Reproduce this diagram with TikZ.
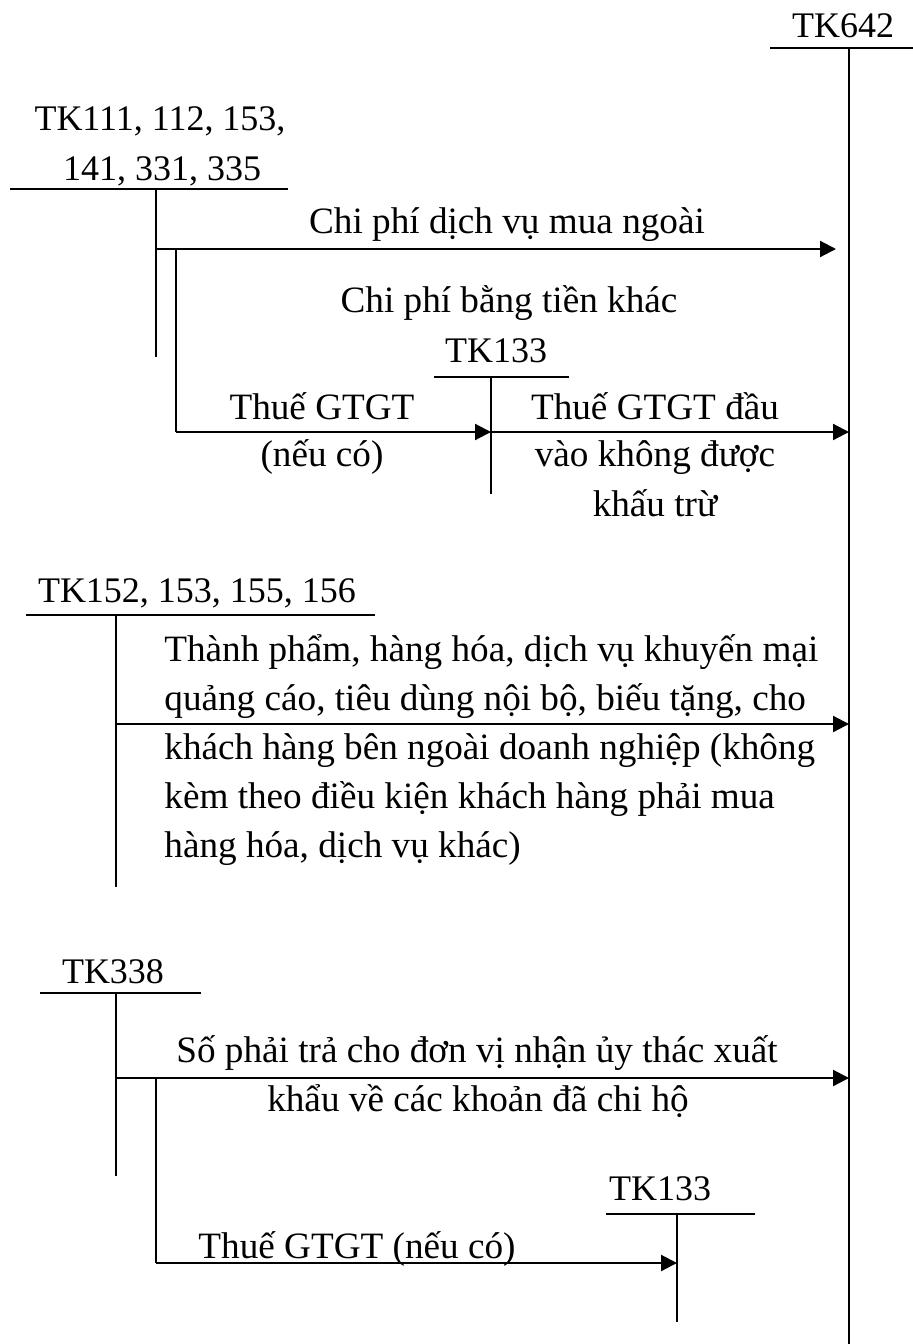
\documentclass[tikz,border=0pt]{standalone}
\usepackage{fontspec}
\setmainfont{Liberation Serif}
\usetikzlibrary{arrows.meta}
\tikzset{
    txt/.style={font=\fontsize{18}{24.5}\selectfont, inner sep=0pt, anchor=base},
    lib/.style={txt, font=\fontsize{18.6}{24.5}\selectfont},
    compte/.style={line width=1.15pt},
    branche/.style={line width=0.75pt},
    fleche/.style={line width=1.1pt, -{Triangle[length=8pt,width=8pt]}},
  }

\begin{document}
\begin{tikzpicture}[x=0.5pt,y=-0.5pt]
      \useasboundingbox (0,0) rectangle (913,1344);
      %TK642
      \node[txt] (t642) at (843,37) {TK642};
      \coordinate (g642) at (770,48);
      \coordinate (d642) at (913,48);
      \coordinate (h642) at (849,48);
      \coordinate (b642) at (849,1344);
      \draw[compte] (g642) -- (d642);
      \draw[branche] (h642) -- (b642);
      %TK111, 112, ...
      \node[txt] (t111) at (160,130) {TK111, 112, 153,};
      \node[txt] (t141) at (162,180) {141, 331, 335};
      \coordinate (g111) at (10,189);
      \coordinate (d111) at (288,189);
      \coordinate (h111) at (156,189);
      \coordinate (b111) at (156,357);
      \coordinate (h111b) at (176,249);
      \coordinate (b111b) at (176,432);
      \draw[compte] (g111) -- (d111);
      \draw[branche] (h111) -- (b111);
      \draw[branche] (h111b) -- (b111b);
      \draw[fleche, shorten >=6.5pt] (h111 |- h111b) -- (h111b -| h642);
      \node[lib] (l1) at (507,233) {Chi phí dịch vụ mua ngoài};
      \node[lib] (l2) at (509,312) {Chi phí bằng tiền khác};
      %TK133
      \node[txt] (t133) at (496,362) {TK133};
      \coordinate (g133) at (434,377);
      \coordinate (d133) at (569,377);
      \coordinate (h133) at (491,377);
      \coordinate (b133) at (491,494);
      \draw[compte] (g133) -- (d133);
      \draw[branche] (h133) -- (b133);
      \draw[fleche] (b111b) -- (b111b -| h133);
      \draw[fleche] (b111b -| h133) -- (b111b -| h642);
      \node[lib] (l3) at (322,419) {Thuế GTGT};
      \node[lib] (l4) at (322,466) {(nếu có)};
      \node[lib] (l5) at (655,419) {Thuế GTGT đầu};
      \node[lib] (l6) at (655,466) {vào không được};
      \node[lib] (l7) at (655,516) {khấu trừ};
      %TK152, 153, 155, 156
      \node[txt] (t152) at (197,602) {TK152, 153, 155, 156};
      \coordinate (g152) at (26,615);
      \coordinate (d152) at (375,615);
      \coordinate (h152) at (116,615);
      \coordinate (b152) at (116,887);
      \coordinate (s152) at (116,724);
      \draw[compte] (g152) -- (d152);
      \draw[branche] (h152) -- (b152);
      \draw[fleche] (s152) -- (s152 -| h642);
      % base = derniere ligne
      \node[lib, anchor=base west, align=left] (l8) at (164,857)
            {Thành phẩm, hàng hóa, dịch vụ khuyến mại\\
             quảng cáo, tiêu dùng nội bộ, biếu tặng, cho\\
             khách hàng bên ngoài doanh nghiệp (không\\
             kèm theo điều kiện khách hàng phải mua\\
             hàng hóa, dịch vụ khác)};
      %TK338
      \node[txt] (t338) at (113,983) {TK338};
      \coordinate (g338) at (40,993);
      \coordinate (d338) at (201,993);
      \coordinate (h338) at (116,993);
      \coordinate (b338) at (116,1176);
      \coordinate (s338) at (116,1078);
      \coordinate (h338b) at (156,1078);
      \coordinate (b338b) at (156,1263);
      \draw[compte] (g338) -- (d338);
      \draw[branche] (h338) -- (b338);
      \draw[branche] (h338b) -- (b338b);
      \draw[fleche] (s338) -- (s338 -| h642);
      \node[lib] (l9) at (477,1062) {Số phải trả cho đơn vị nhận ủy thác xuất};
      \node[lib] (l10) at (478,1111) {khẩu về các khoản đã chi hộ};
      %TK133 (bas)
      \node[txt] (t133b) at (660,1200) {TK133};
      \coordinate (g133b) at (606,1214);
      \coordinate (d133b) at (755,1214);
      \coordinate (h133b) at (677,1214);
      \coordinate (b133b) at (677,1322);
      \draw[compte] (g133b) -- (d133b);
      \draw[branche] (h133b) -- (b133b);
      \draw[fleche] (b338b) -- (b338b -| h133b);
      \node[lib] (l11) at (357,1258) {Thuế GTGT (nếu có)};
\end{tikzpicture}
\end{document}
